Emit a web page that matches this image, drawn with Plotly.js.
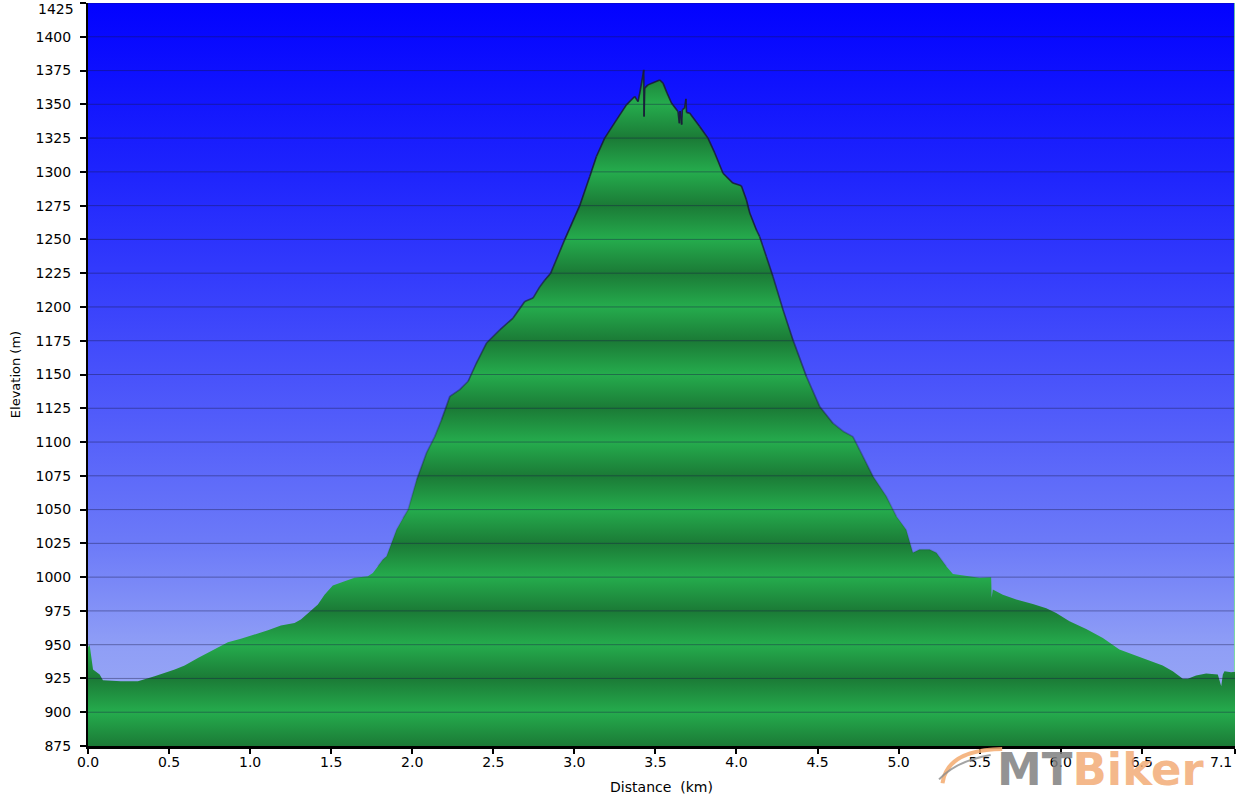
<!DOCTYPE html>
<html>
<head>
<meta charset="utf-8">
<script src="https://cdn.plot.ly/plotly-3.0.1.min.js"></script>
<style>html,body{margin:0;padding:0;background:#fff;}#chart{width:1240px;height:800px;}</style>
</head>
<body>
<div id="chart"></div>
<script>
// Distance along the track (km)
const distKm = [0, 0.01, 0.031, 0.072, 0.092, 0.203, 0.308, 0.411, 0.535, 0.596, 0.678, 0.781, 0.863, 0.943,
  1.028, 1.11, 1.19, 1.274, 1.313, 1.367, 1.418, 1.459, 1.51, 1.583, 1.644, 1.726, 1.757, 1.788, 1.819, 1.842,
  1.903, 1.944, 1.975, 2.027, 2.088, 2.139, 2.181, 2.232, 2.293, 2.345, 2.396, 2.458, 2.54, 2.622, 2.694, 2.745,
  2.787, 2.818, 2.854, 2.941, 3.033, 3.095, 3.136, 3.187, 3.26, 3.321, 3.372, 3.393, 3.407, 3.428, 3.430, 3.434,
  3.454, 3.485, 3.527, 3.547, 3.572, 3.599, 3.639, 3.648, 3.652, 3.662, 3.666, 3.68, 3.688, 3.692, 3.711, 3.773,
  3.824, 3.866, 3.917, 3.978, 4.03, 4.061, 4.082, 4.123, 4.143, 4.184, 4.225, 4.287, 4.348, 4.431, 4.513, 4.595,
  4.657, 4.718, 4.78, 4.842, 4.924, 4.986, 5.047, 5.088, 5.129, 5.191, 5.233, 5.294, 5.335, 5.438, 5.499, 5.571,
  5.574, 5.581, 5.643, 5.726, 5.828, 5.911, 5.972, 6.054, 6.157, 6.26, 6.362, 6.445, 6.547, 6.629, 6.691, 6.753,
  6.784, 6.835, 6.897, 6.969, 6.99, 7.0, 7.01, 7.051, 7.075];
// Elevation (m)
const elevM = [948, 950, 931.6, 928, 923.7, 923, 923, 926.6, 931.6, 934.6, 940.2, 946.9, 951.8, 954.3,
  957.5, 960.7, 964.2, 966.1, 968.6, 974, 979.7, 987, 993.8, 997, 999.5, 1000.6, 1003, 1008, 1013, 1015.4,
  1035, 1043.8, 1050, 1072, 1092, 1104, 1116.6, 1133.8, 1138.8, 1145, 1158.5, 1173.3, 1183, 1191.8, 1204, 1206.6,
  1215, 1220, 1225, 1250, 1275, 1296.6, 1311.4, 1325, 1338.5, 1349.6, 1355.8, 1352, 1360.7, 1375.5, 1341, 1362,
  1364.4, 1366, 1368, 1365.7, 1358.3, 1351, 1344.7, 1336, 1345, 1335, 1346, 1347.2, 1354, 1344, 1343.5, 1333.6,
  1325, 1314, 1299, 1291.7, 1289.7, 1279.4, 1269.5, 1257, 1252, 1237.4, 1222.6, 1198, 1175.8, 1148.6, 1126.4, 1114,
  1108, 1104, 1089.4, 1074.6, 1059.8, 1045, 1035, 1018, 1020.4, 1020.4, 1018, 1008, 1002.4, 1000.6, 999.5, 1000,
  984.7, 990.8, 987, 983.4, 980.2, 977, 973.5, 967.3, 961.7, 955, 946.4, 942.7, 938.5, 934.6, 930.4, 924.7,
  924.7, 927.2, 928.6, 928, 919.2, 928, 930.4, 929.6, 930];

// Axis settings
const xRange = [0, 7.075];
const yRange = [875, 1425];
const xTickVals = [0, 0.5, 1, 1.5, 2, 2.5, 3, 3.5, 4, 4.5, 5, 5.5, 6, 6.5, 7.075];
const xTickText = ['0.0','0.5','1.0','1.5','2.0','2.5','3.0','3.5','4.0','4.5','5.0','5.5','6.0','6.5','7.1'];
const yTickVals = [];
for (let v = yRange[0]; v <= yRange[1]; v += 25) yTickVals.push(v);
const yTickText = yTickVals.map(String);

// the end labels are placed as annotations so they stay inside the page
const lastX = xTickText.length - 1, lastY = yTickText.length - 1;
const xTickShown = xTickText.map((t, i) => i === lastX ? '' : t);
const yTickShown = yTickText.map((t, i) => i === lastY ? '' : t);

// Sky gradient (background)
const skyScale = [
  [0, 'rgb(158,172,244)'], [0.136, 'rgb(143,158,246)'], [0.273, 'rgb(108,122,248)'],
  [0.5, 'rgb(72,82,251)'], [0.773, 'rgb(30,36,253)'], [1, 'rgb(2,2,255)']
];
const sky = {
  x: [xRange[0], xRange[1], xRange[1], xRange[0]],
  y: [yRange[0], yRange[0], yRange[1], yRange[1]],
  type: 'scatter', mode: 'none', fill: 'toself',
  fillgradient: {type: 'vertical', colorscale: skyScale, start: yRange[0], stop: yRange[1]},
  hoverinfo: 'skip', showlegend: false
};

// Banded green gradient: dark at 875+50k, light at 900+50k
const dark = 'rgb(27,122,54)', light = 'rgb(37,172,77)';
const greenScale = [];
for (let i = 0; i < yTickVals.length; i++) {
  greenScale.push([(yTickVals[i] - yRange[0]) / (yRange[1] - yRange[0]), i % 2 === 0 ? dark : light]);
}
const terrain = {
  x: distKm, y: elevM, type: 'scatter', mode: 'lines',
  line: {width: 0, color: 'rgba(0,0,0,0)'},
  fill: 'tozeroy',
  fillgradient: {type: 'vertical', colorscale: greenScale, start: yRange[0], stop: yRange[1]},
  hoverinfo: 'skip', showlegend: false
};

// Outline: darker at higher elevation
const tiers = 8;
const outlineTraces = [];
const tierX = [], tierY = [];
for (let t = 0; t < tiers; t++) { tierX.push([]); tierY.push([]); }
for (let i = 0; i < distKm.length - 1; i++) {
  const m = (elevM[i] + elevM[i + 1]) / 2;
  let a = (m - 1010) / 280;
  if (a <= 0) continue;
  if (a > 1) a = 1;
  const t = Math.min(tiers - 1, Math.floor(a * tiers));
  tierX[t].push(distKm[i], distKm[i + 1], null);
  tierY[t].push(elevM[i], elevM[i + 1], null);
}
for (let t = 0; t < tiers; t++) {
  const alpha = ((t + 1) / tiers) * 0.9;
  outlineTraces.push({
    x: tierX[t], y: tierY[t], type: 'scatter', mode: 'lines',
    line: {width: 1.6, color: 'rgba(25,30,55,' + alpha.toFixed(3) + ')'},
    connectgaps: false, hoverinfo: 'skip', showlegend: false
  });
}

// Horizontal grid lines drawn above the fill
const shapes = yTickVals.slice(1).map(v => ({
  type: 'line', xref: 'paper', x0: 0, x1: 1, yref: 'y', y0: v, y1: v,
  line: {color: 'rgba(25,25,70,0.42)', width: 1}, layer: 'above'
}));
// light edge at the end of the track
shapes.push({
  type: 'line', xref: 'x', x0: xRange[1], x1: xRange[1], yref: 'y',
  y0: elevM[elevM.length - 1], y1: yRange[1],
  line: {color: 'rgba(120,225,150,0.85)', width: 2}, layer: 'above'
});
// logo swoosh
shapes.push({
  type: 'path', xref: 'paper', yref: 'paper',
  path: 'M 0.745,-0.050 Q 0.749,-0.005 0.797,-0.004',
  line: {color: 'rgba(243,170,110,0.85)', width: 4}
});
shapes.push({
  type: 'path', xref: 'paper', yref: 'paper',
  path: 'M 0.742,-0.045 Q 0.757,-0.020 0.787,-0.012',
  line: {color: 'rgba(140,140,140,0.8)', width: 2}
});

const font = {family: 'DejaVu Sans, Verdana, sans-serif', size: 14, color: '#000'};
const layout = {
  width: 1240, height: 800,
  margin: {l: 88, r: 5, t: 3, b: 54, pad: 0},
  paper_bgcolor: '#ffffff', plot_bgcolor: '#ffffff',
  font: font,
  showlegend: false,
  xaxis: {
    range: xRange, tickmode: 'array', tickvals: xTickVals, ticktext: xTickShown,
    showgrid: false, zeroline: false, showline: true, linecolor: '#000', linewidth: 3,
    ticks: 'outside', ticklen: 5, tickwidth: 2, tickcolor: '#000',
    tickfont: font, ticklabelstandoff: -4,
    title: {text: 'Distance\u00a0\u00a0(km)', font: {family: font.family, size: 14, color: '#000'}, standoff: 14},
    layer: 'above traces', fixedrange: true
  },
  yaxis: {
    range: yRange, tickmode: 'array', tickvals: yTickVals, ticktext: yTickShown,
    showgrid: false, zeroline: false, showline: true, linecolor: '#000', linewidth: 2,
    ticks: 'outside', ticklen: 6, tickwidth: 2, tickcolor: '#000',
    tickfont: font, ticklabelstandoff: 6,
    title: {text: 'Elevation (m)', font: {family: font.family, size: 13, color: '#000'}, standoff: 12},
    layer: 'above traces', fixedrange: true
  },
  shapes: shapes,
  annotations: [
    {
      xref: 'paper', yref: 'paper', x: 0.792, y: -0.032, xanchor: 'left', yanchor: 'middle',
      text: '<b><span style="color:rgba(128,128,128,0.85)">MT</span><span style="color:rgba(243,172,118,0.85)">Biker</span></b>',
      showarrow: false, font: {family: 'DejaVu Sans, sans-serif', size: 45}, borderpad: 0
    },
    {
      xref: 'x', yref: 'paper', x: xTickVals[lastX], y: 0, xanchor: 'right', yanchor: 'middle',
      xshift: -1, yshift: -16, text: xTickText[lastX], showarrow: false, font: font
    },
    {
      xref: 'paper', yref: 'y', x: 0, y: yTickVals[lastY], xanchor: 'right', yanchor: 'middle',
      xshift: -12, yshift: -6, text: yTickText[lastY], showarrow: false, font: font
    }
  ]
};

Plotly.newPlot('chart', [sky, terrain].concat(outlineTraces), layout, {staticPlot: true, displayModeBar: false});
</script>
</body>
</html>
